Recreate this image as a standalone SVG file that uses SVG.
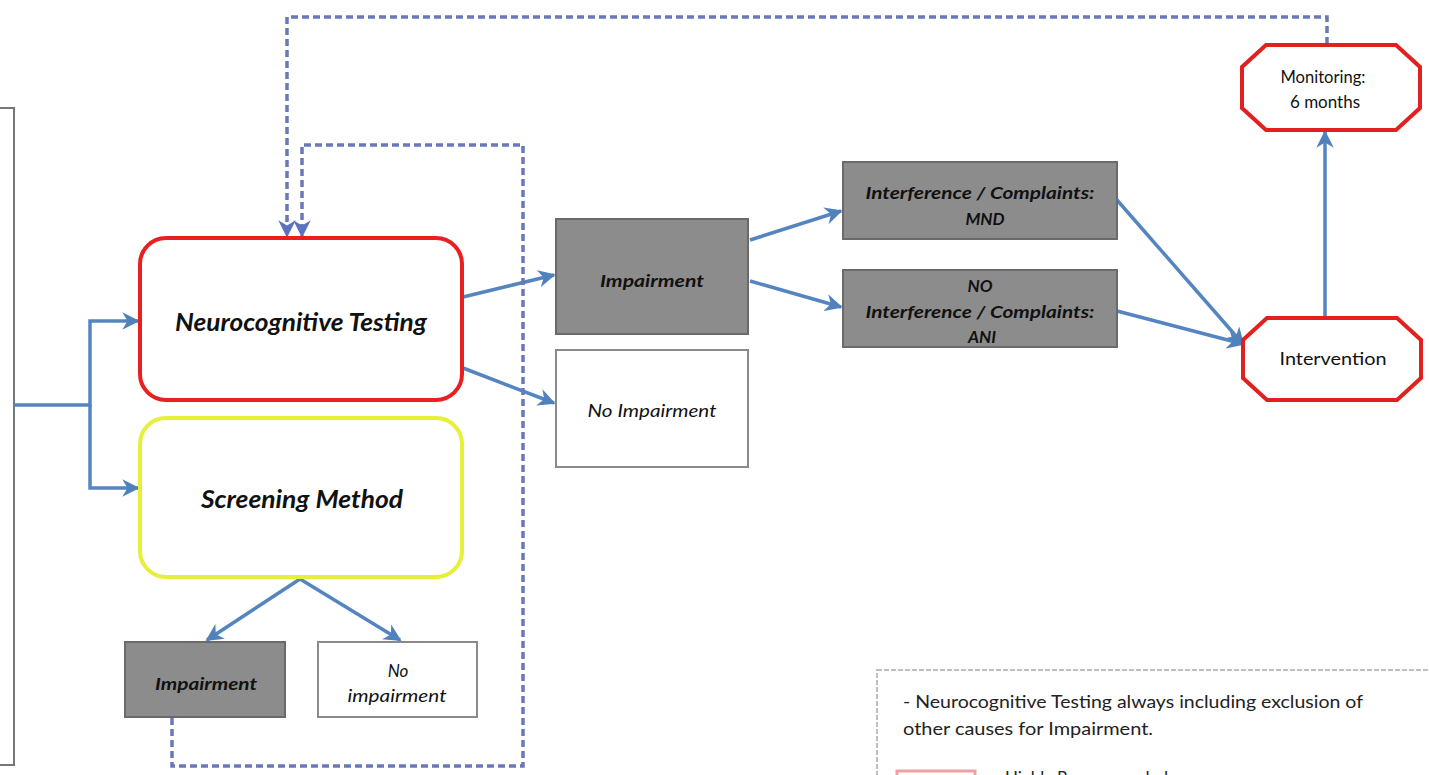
<svg xmlns="http://www.w3.org/2000/svg" width="1429" height="775" viewBox="0 0 1429 775">
<defs>
<marker id="ah" viewBox="0 0 10 10" refX="9" refY="5" markerWidth="5" markerHeight="5" orient="auto" markerUnits="strokeWidth">
<path d="M0,0 L10,5 L0,10 L3,5 Z" fill="#4f81bd"/>
</marker>
<marker id="ahd" viewBox="0 0 10 10" refX="9" refY="5" markerWidth="5" markerHeight="5" orient="auto" markerUnits="strokeWidth">
<path d="M0,0 L10,5 L0,10 L3,5 Z" fill="#5a72c0"/>
</marker>
</defs>
<style>
.t{font-family:Lato,"Liberation Sans",sans-serif;fill:#111;text-anchor:middle}
.bi{font-weight:bold;font-style:italic}
.it{font-style:italic}
.lg{font-family:Lato,"Liberation Sans",sans-serif;fill:#222;font-size:17px}
.gray{fill:#8c8c8c;stroke:#6a6a6a;stroke-width:2}
.white{fill:#fff;stroke:#8a8a8a;stroke-width:2}
.conn{fill:none;stroke:#5585c0;stroke-width:3.5;marker-end:url(#ah)}
.dash{fill:none;stroke:#6a78b8;stroke-width:3.5;stroke-dasharray:7 4;marker-end:url(#ahd)}
.oct{fill:#fff;stroke:#e32020;stroke-width:4}
</style>
<rect width="1429" height="775" fill="#fff"/>

<g id="outer-box"><rect x="-10" y="108" width="24" height="657" fill="#fff" stroke="#777" stroke-width="2"/></g>

<g id="connectors">
<path class="conn" d="M14,405 H90 V321 H138"/>
<path class="conn" d="M90,405 V488 H138"/>
<path class="conn" d="M300,579 L207,640"/>
<path class="conn" d="M300,579 L400,640"/>
<path class="conn" d="M463,297 L554,275"/>
<path class="conn" d="M463,368 L554,403"/>
<path class="conn" d="M750,240 L841,211"/>
<path class="conn" d="M750,281 L841,307"/>
<path class="conn" d="M1117,200 L1243,344"/>
<path class="conn" d="M1117,311 L1243,344"/>
<path class="conn" d="M1325,317 V132"/>
<path class="dash" d="M172,718 V766 H523 V145 H302 V236"/>
<path class="dash" d="M1327,44 V17 H287 V236"/>
</g>

<g id="neuro"><rect x="140" y="238" width="322" height="162" rx="26" fill="#fff" stroke="#e82020" stroke-width="4"/>
<text class="t bi" x="301" y="331" font-size="24" textLength="252" lengthAdjust="spacingAndGlyphs">Neurocognitive Testing</text></g>

<g id="screening"><rect x="140" y="418" width="322" height="159" rx="26" fill="#fff" stroke="#e6ef3a" stroke-width="4"/>
<text class="t bi" x="302" y="508" font-size="24" textLength="202" lengthAdjust="spacingAndGlyphs">Screening Method</text></g>

<g id="s-impairment"><rect class="gray" x="125" y="642" width="160" height="75"/>
<text class="t bi" x="206" y="690" font-size="17" textLength="102" lengthAdjust="spacingAndGlyphs">Impairment</text></g>

<g id="s-noimpairment"><rect class="white" x="318" y="642" width="159" height="75"/>
<text class="t it" x="398" y="677" font-size="17">No</text>
<text class="t it" x="397" y="702" font-size="17" textLength="99" lengthAdjust="spacingAndGlyphs">impairment</text></g>

<g id="impairment"><rect class="gray" x="556" y="219" width="192" height="115"/>
<text class="t bi" x="652" y="287" font-size="17" textLength="104" lengthAdjust="spacingAndGlyphs">Impairment</text></g>

<g id="noimpairment"><rect class="white" x="556" y="350" width="192" height="117"/>
<text class="t it" x="652" y="417" font-size="17" textLength="129" lengthAdjust="spacingAndGlyphs">No Impairment</text></g>

<g id="mnd"><rect class="gray" x="843" y="162" width="274" height="77"/>
<text class="t bi" x="980" y="199" font-size="17" textLength="229" lengthAdjust="spacingAndGlyphs">Interference / Complaints:</text>
<text class="t bi" x="985" y="225" font-size="17">MND</text></g>

<g id="ani"><rect class="gray" x="843" y="270" width="274" height="77"/>
<text class="t bi" x="980" y="292" font-size="17">NO</text>
<text class="t bi" x="980" y="318" font-size="17" textLength="229" lengthAdjust="spacingAndGlyphs">Interference / Complaints:</text>
<text class="t bi" x="982" y="343" font-size="17">ANI</text></g>

<g id="intervention"><polygon class="oct" points="1267,318 1397,318 1421,340 1421,378 1397,400 1267,400 1243,378 1243,340"/>
<text class="t" x="1333" y="365" font-size="17" textLength="107" lengthAdjust="spacingAndGlyphs">Intervention</text></g>

<g id="monitoring"><polygon class="oct" points="1266,45 1396,45 1420,67 1420,108 1396,130 1266,130 1242,108 1242,67"/>
<text class="t" x="1323" y="83" font-size="17" textLength="85" lengthAdjust="spacingAndGlyphs">Monitoring:</text>
<text class="t" x="1325" y="108" font-size="17">6 months</text></g>

<g id="legend">
<rect x="877" y="670" width="570" height="120" fill="#fff" stroke="#aaa" stroke-width="1.5" stroke-dasharray="5 2"/>
<text class="lg" x="903" y="708" textLength="460" lengthAdjust="spacingAndGlyphs">- Neurocognitive Testing always including exclusion of</text>
<text class="lg" x="903" y="735" textLength="250" lengthAdjust="spacingAndGlyphs">other causes for Impairment.</text>
<rect x="897" y="771" width="78" height="30" fill="#fff" stroke="#f0a0a0" stroke-width="3"/>
<text class="lg" x="1005" y="784">Highly Recommended</text>
</g>
</svg>
